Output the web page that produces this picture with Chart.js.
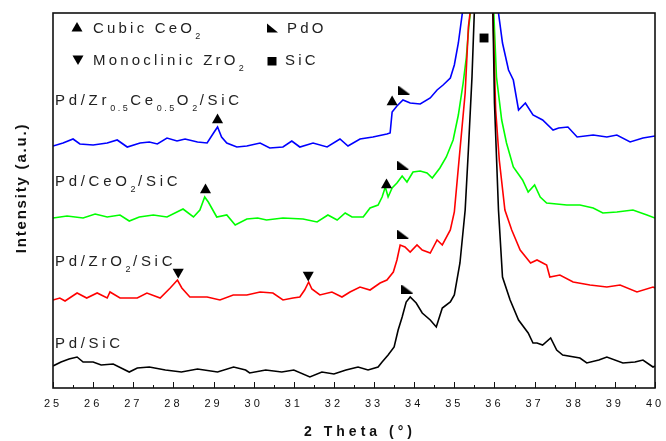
<!DOCTYPE html>
<html><head><meta charset="utf-8">
<script src="https://cdn.jsdelivr.net/npm/chart.js@4"></script>
<style>html,body{margin:0;padding:0;background:#fff;overflow:hidden}</style>
</head><body>
<canvas id="c" width="666" height="441" style="width:666px;height:441px;display:block"></canvas>
<script>
// ---- tick values / labels
const tickValues = [25,26,27,28,29,30,31,32,33,34,35,36,37,38,39,40];
const tickLabels = ['25','26','27','28','29','30','31','32','33','34','35','36','37','38','39','40'];

// ---- series (2 theta in degrees, intensity in arbitrary units, offset stacked)
const blackTheta = [25.0,25.2,25.4,25.6,25.75,26.0,26.2,26.5,26.9,27.1,27.4,27.8,28.2,28.6,29.1,29.5,29.8,29.9,30.3,30.7,31.0,31.4,31.7,32.0,32.3,32.6,32.85,33.1,33.2,33.35,33.5,33.6,33.7,33.8,33.9,34.05,34.2,34.4,34.55,34.7,34.9,35.0,35.14,35.27,35.35,35.44,35.5,35.55,35.72,35.9,35.96,36.0,36.1,36.2,36.39,36.6,36.84,36.96,37.06,37.2,37.4,37.55,37.7,38.13,38.3,38.6,38.8,39.2,39.5,39.7,39.95,40.0];
const blackI = [22,26,29,31,26,26,23,24,16,20,21,18,16,19,16,21,18,15,18,16,18,11,16,14,18,21,18,21,26,33,41,58,71,86,91,85,75,68,61,80,86,93,125,178,238,311,378,600,900,600,378,285,178,111,88,68,55,45,45,43,50,38,33,30,25,28,31,25,26,28,21,22];

const redTheta = [25.0,25.17,25.3,25.6,25.84,26.1,26.35,26.42,26.67,27.1,27.34,27.67,27.92,28.1,28.21,28.41,28.84,29.16,29.49,29.83,30.16,30.48,30.73,30.98,31.15,31.27,31.37,31.45,31.65,31.95,32.2,32.4,32.65,32.9,33.15,33.32,33.48,33.57,33.65,33.77,33.9,34.07,34.2,34.4,34.57,34.7,34.9,35.0,35.14,35.27,35.35,35.4,35.5,35.72,35.93,35.96,36.03,36.12,36.26,36.43,36.64,36.9,37.06,37.3,37.38,37.63,37.96,38.38,38.8,39.13,39.55,39.95,40.0];
const redI = [88,90,87,95,90,95,90,96,90,90,95,90,100,108,100,91,91,88,93,93,96,95,88,90,91,98,106,99,93,96,91,96,101,98,105,108,116,128,143,141,136,143,138,135,148,143,158,176,238,295,361,378,538,900,538,378,278,228,178,158,138,125,128,123,111,113,106,103,101,103,96,101,100];

const greenTheta = [25.0,25.35,25.75,26.05,26.35,26.67,26.9,27.15,27.5,27.84,28.24,28.5,28.66,28.78,28.87,29.08,29.33,29.54,29.83,30.1,30.32,30.73,31.23,31.58,31.85,32.08,32.28,32.45,32.73,32.9,33.1,33.2,33.28,33.35,33.45,33.57,33.7,33.82,33.97,34.15,34.32,34.45,34.64,34.8,34.97,35.1,35.22,35.3,35.36,35.4,35.5,35.72,35.93,35.98,36.05,36.18,36.3,36.47,36.7,36.84,37.0,37.14,37.3,37.55,37.8,38.13,38.46,38.7,39.05,39.45,39.8,40.0];
const greenI = [170,172,170,174,171,173,167,171,173,171,179,171,178,191,186,171,173,163,169,170,168,170,169,166,173,168,175,171,171,180,183,191,201,191,200,205,212,206,216,217,215,210,220,231,248,273,305,331,361,375,538,900,538,378,311,268,245,221,208,196,203,191,185,184,183,183,180,175,176,178,173,170];

const blueTheta = [25.0,25.25,25.5,25.67,26.0,26.35,26.6,26.85,27.17,27.4,27.6,27.84,28.09,28.29,28.6,28.84,29.0,29.1,29.2,29.33,29.58,29.83,30.16,30.4,30.73,30.95,31.15,31.48,31.83,32.15,32.35,32.65,32.97,33.32,33.4,33.45,33.57,33.72,33.9,34.15,34.4,34.57,34.72,34.9,35.0,35.1,35.2,35.4,35.72,36.0,36.1,36.2,36.35,36.47,36.6,36.77,36.96,37.2,37.46,37.6,37.83,38.06,38.46,38.8,39.05,39.38,39.7,40.0];
const blueI = [242,245,249,244,243,245,248,241,245,246,244,250,247,249,246,245,255,261,251,245,241,242,245,240,241,247,241,245,241,249,242,249,251,254,255,276,282,288,285,284,290,298,303,310,323,345,375,500,900,480,375,345,318,308,278,285,273,268,258,260,261,251,253,251,253,246,250,252];

// ---- phase markers
const ceo2Theta = [29.1, 33.45, 28.8, 33.31];
const ceo2I = [268, 286, 198, 203];
const zro2Theta = [28.12, 31.36];
const zro2I = [116, 113];
const pdoTheta = [33.75, 33.72, 33.72, 33.83];
const pdoI = [298, 223, 154, 99];
const sicTheta = [35.74];
const sicI = [350];

// ---- texts
const seriesLabels = [
  {y:105, parts:[['Pd/Zr',0],['0.5',1],['Ce',0],['0.5',1],['O',0],['2',1],['/SiC',0]]},
  {y:186, parts:[['Pd/CeO',0],['2',1],['/SiC',0]]},
  {y:266, parts:[['Pd/ZrO',0],['2',1],['/SiC',0]]},
  {y:348, parts:[['Pd/SiC',0]]}
];
const legendItems = [
  {sym:'up',   sx:77,  sy:27, tx:93,  ty:33, parts:[['Cubic CeO',0],['2',1]]},
  {sym:'pdo',  sx:272, sy:28, tx:287, ty:33, parts:[['PdO',0]]},
  {sym:'down', sx:78,  sy:60, tx:93,  ty:65, parts:[['Monoclinic ZrO',0],['2',1]]},
  {sym:'sq',   sx:272, sy:61, tx:285, ty:65, parts:[['SiC',0]]}
];
const xTitle = '2 Theta (°)';
const yTitle = 'Intensity (a.u.)';

const FONT = '"Liberation Sans", Arial, sans-serif';

function pts(t, v){ return t.map((x,i)=>({x:x, y:v[i]})); }

// PdO marker glyph (◣)
function pdoImage(){
  const c = document.createElement('canvas'); c.width = 12; c.height = 9;
  const g = c.getContext('2d'); g.fillStyle = '#000';
  g.beginPath(); g.moveTo(0,0); g.lineTo(0,9); g.lineTo(12,9); g.closePath(); g.fill();
  return c;
}
const pdoImg = pdoImage();

function drawRich(ctx, x, y, parts, size, subSize, ls, subLs, subDy){
  for (const [t, sub] of parts){
    ctx.font = (sub ? subSize : size) + 'px ' + FONT;
    ctx.letterSpacing = (sub ? subLs : ls) + 'px';
    ctx.fillText(t, x, sub ? y + subDy : y);
    x += ctx.measureText(t).width;
  }
}

const decor = {
  id: 'decor',
  beforeDraw(chart){ chart.ctx.letterSpacing = '3px'; },
  afterDraw(chart){
    const ctx = chart.ctx, a = chart.chartArea, xs = chart.scales.x;
    ctx.save();
    // frame
    ctx.strokeStyle = '#111'; ctx.lineWidth = 1.6;
    ctx.strokeRect(a.left, a.top, a.right - a.left, a.bottom - a.top);
    // inward ticks on the bottom axis
    ctx.lineWidth = 1;
    for (let v = 25; v <= 40.001; v += 0.5){
      const px = Math.round(xs.getPixelForValue(v)) + 0.5;
      const len = Math.abs(v - Math.round(v)) < 1e-6 ? 6 : 3;
      ctx.beginPath(); ctx.moveTo(px, a.bottom); ctx.lineTo(px, a.bottom - len); ctx.stroke();
    }
    // series labels
    ctx.fillStyle = '#222'; ctx.textBaseline = 'alphabetic'; ctx.textAlign = 'left';
    for (const s of seriesLabels) drawRich(ctx, 55, s.y, s.parts, 15, 9, 3.7, 2.5, 6);
    // legend
    for (const it of legendItems){
      ctx.fillStyle = '#000';
      ctx.beginPath();
      const x = it.sx, y = it.sy;
      if (it.sym === 'up'){ ctx.moveTo(x, y-5); ctx.lineTo(x+5.5, y+4.5); ctx.lineTo(x-5.5, y+4.5); }
      else if (it.sym === 'down'){ ctx.moveTo(x-5.5, y-4.5); ctx.lineTo(x+5.5, y-4.5); ctx.lineTo(x, y+5); }
      else if (it.sym === 'pdo'){ ctx.moveTo(x-5, y-4.5); ctx.lineTo(x-5, y+4.5); ctx.lineTo(x+6, y+4.5); }
      else { ctx.rect(x-4.5, y-4, 9, 8.5); }
      ctx.closePath(); ctx.fill();
      ctx.fillStyle = '#222';
      drawRich(ctx, it.tx, it.ty, it.parts, 15, 9, 3.2, 2, 6);
    }
    // axis titles
    ctx.fillStyle = '#111';
    ctx.font = 'bold 14px ' + FONT; ctx.letterSpacing = '4px';
    ctx.textAlign = 'center'; ctx.textBaseline = 'middle';
    ctx.fillText(xTitle, 360, 432);
    ctx.translate(21.5, 188); ctx.rotate(-Math.PI/2);
    ctx.font = 'bold 15px ' + FONT; ctx.letterSpacing = '1.8px';
    ctx.fillText(yTitle, 0, 0);
    ctx.restore();
  }
};

const lineDs = (label, t, v, color) => ({
  label, data: pts(t, v), showLine: true, borderColor: color, backgroundColor: color,
  borderWidth: 1.6, pointRadius: 0, tension: 0, fill: false
});
const markDs = (label, t, v, style, rot, r) => ({
  label, data: pts(t, v), showLine: false, pointStyle: style, rotation: rot,
  pointRadius: r, pointHoverRadius: r, backgroundColor: '#000', borderColor: '#000', borderWidth: 0
});

new Chart(document.getElementById('c'), {
  type: 'scatter',
  data: { datasets: [
    markDs('Cubic CeO2', ceo2Theta, ceo2I, 'triangle', 0, 6.4),
    markDs('Monoclinic ZrO2', zro2Theta, zro2I, 'triangle', 180, 6.4),
    markDs('PdO', pdoTheta, pdoI, pdoImg, 0, 6),
    markDs('SiC', sicTheta, sicI, 'rect', 0, 6.3),
    lineDs('Pd/SiC', blackTheta, blackI, '#000000'),
    lineDs('Pd/ZrO2/SiC', redTheta, redI, '#ff0000'),
    lineDs('Pd/CeO2/SiC', greenTheta, greenI, '#00ff00'),
    lineDs('Pd/Zr0.5Ce0.5O2/SiC', blueTheta, blueI, '#0000ff')
  ]},
  options: {
    responsive: false, animation: false, devicePixelRatio: 1,
    layout: { padding: { left: 53, top: 13, right: 11, bottom: 0 } },
    plugins: { legend: { display: false }, tooltip: { enabled: false } },
    events: [],
    scales: {
      x: {
        type: 'linear', min: 25, max: 40,
        afterBuildTicks: s => { s.ticks = tickValues.map(v => ({ value: v })); },
        afterFit: s => { s.height = 53; s.paddingLeft = 0; s.paddingRight = 0; },
        grid: { display: false, drawTicks: false },
        border: { display: false },
        ticks: {
          padding: 9, color: '#111', maxRotation: 0, autoSkip: false,
          font: { family: FONT, size: 11 },
          callback: (v) => tickLabels[tickValues.indexOf(v)]
        }
      },
      y: { display: false, min: 0, max: 375 }
    }
  },
  plugins: [decor]
});
</script>
</body></html>
